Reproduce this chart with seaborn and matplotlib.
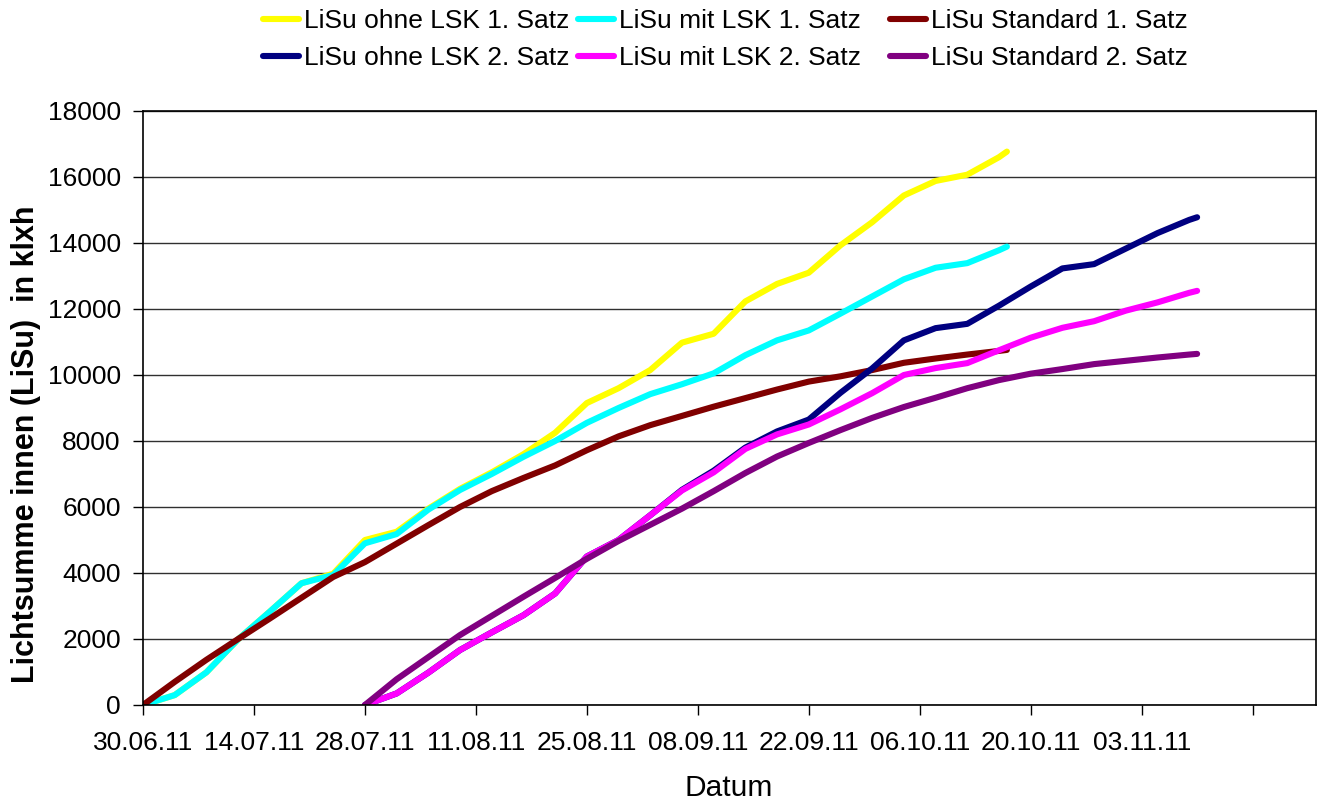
import numpy as np
import pandas as pd
import matplotlib
matplotlib.use("Agg")
import matplotlib.pyplot as plt
from matplotlib.lines import Line2D
import seaborn as sns

start = pd.Timestamp("2011-06-30")

# Tage seit 30.06.11
days_1 = [0, 4, 8, 12, 16, 20, 24, 28, 32, 36, 40, 44, 48, 52, 56, 60, 64, 68,
          72, 76, 80, 84, 88, 92, 96, 100, 104, 108, 109]
days_2 = [28, 32, 36, 40, 44, 48, 52, 56, 60, 64, 68, 72, 76, 80, 84, 88, 92,
          96, 100, 104, 108, 112, 116, 120, 124, 128, 132, 133]

ohne_lsk_1 = [0, 300, 990, 1990, 2830, 3690, 3980, 5000, 5250, 5950, 6550, 7050,
              7600, 8250, 9150, 9600, 10150, 10980, 11250, 12230, 12760, 13100,
              13930, 14630, 15440, 15880, 16070, 16600, 16770]
mit_lsk_1 = [0, 300, 990, 1990, 2830, 3690, 3940, 4900, 5180, 5920, 6515, 7000,
             7520, 8000, 8550, 9000, 9420, 9720, 10050, 10600, 11050, 11350,
             11860, 12380, 12900, 13250, 13390, 13780, 13890]
standard_1 = [0, 700, 1370, 2000, 2620, 3250, 3880, 4330, 4890, 5450, 6000, 6480,
              6880, 7260, 7720, 8140, 8480, 8760, 9040, 9300, 9560, 9800, 9960,
              10150, 10370, 10500, 10620, 10730, 10760]

ohne_lsk_2 = [0, 350, 980, 1666, 2200, 2720, 3380, 4500, 5000, 5750, 6520, 7100,
              7800, 8290, 8650, 9460, 10200, 11050, 11420, 11550, 12100, 12680,
              13230, 13360, 13830, 14300, 14700, 14780]
mit_lsk_2 = [0, 350, 980, 1666, 2200, 2720, 3380, 4500, 5000, 5750, 6500, 7050,
             7760, 8200, 8500, 8960, 9450, 10000, 10210, 10360, 10750, 11130,
             11430, 11630, 11950, 12200, 12490, 12550]
standard_2 = [0, 780, 1450, 2120, 2700, 3280, 3850, 4430, 4970, 5460, 5950, 6480,
              7030, 7530, 7940, 8330, 8700, 9030, 9310, 9600, 9845, 10040, 10180,
              10330, 10430, 10530, 10620, 10640]

series = [
    ("LiSu ohne LSK 1. Satz", days_1, ohne_lsk_1, "#FFFF00"),
    ("LiSu mit LSK 1. Satz", days_1, mit_lsk_1, "#00FFFF"),
    ("LiSu Standard 1. Satz", days_1, standard_1, "#800000"),
    ("LiSu ohne LSK 2. Satz", days_2, ohne_lsk_2, "#000080"),
    ("LiSu mit LSK 2. Satz", days_2, mit_lsk_2, "#FF00FF"),
    ("LiSu Standard 2. Satz", days_2, standard_2, "#800080"),
]

sns.set_style("white")
plt.rcParams["font.family"] = ["Liberation Sans", "DejaVu Sans"]
plt.rcParams["text.color"] = "black"
plt.rcParams["xtick.color"] = "black"
plt.rcParams["ytick.color"] = "black"

W, H = 1319, 802
fig = plt.figure(figsize=(W / 100, H / 100), dpi=100)
ax = fig.add_axes([143 / W, 1 - 705 / H, (1316 - 143) / W, (705 - 111) / H])

LW = 4.4
for label, days, values, colour in series:
    dates = start + pd.to_timedelta(days, unit="D")
    sns.lineplot(x=dates, y=values, color=colour, linewidth=LW, ax=ax,
                 solid_capstyle="round", solid_joinstyle="round")

ax.set_ylim(0, 18000)
ax.set_yticks(range(0, 18001, 2000))
ax.set_xlim(start, start + pd.Timedelta(days=148))
ticks = pd.date_range(start, periods=11, freq="14D")
ax.set_xticks(ticks)
ax.set_xticklabels([t.strftime("%d.%m.%y") for t in ticks[:-1]] + [""])

ax.yaxis.grid(True, color="#303030", linewidth=1.0)
ax.xaxis.grid(False)
ax.set_axisbelow(True)
for s in ax.spines.values():
    s.set_color("black")
    s.set_linewidth(1.2)
ax.tick_params(axis="both", direction="out", length=7, width=1, color="black",
               labelsize=19, labelcolor="black", bottom=True, left=True)
ax.tick_params(axis="x", pad=12)
ax.tick_params(axis="y", pad=9)
ax.set_xlabel("")
ax.set_ylabel("")

fig.text(729 / W, 1 - 788 / H, "Datum", ha="center", va="center", fontsize=21.5)
fig.text(26 / W, 1 - 444 / H, "Lichtsumme innen (LiSu)  in klxh", rotation=90,
         ha="center", va="center", fontsize=22, fontweight="bold")

# Legende: drei Spalten wie im Original
for col, x in enumerate([263, 578, 890]):
    items = [series[col], series[col + 3]]
    handles = [Line2D([], [], color=c, linewidth=LW, solid_capstyle="round")
               for _, _, _, c in items]
    fig.legend(handles, [lab for lab, _, _, _ in items], loc="upper left",
               bbox_to_anchor=(x / W, 1 - 9 / H), frameon=False, fontsize=19,
               handlelength=1.35, handletextpad=0.2, labelspacing=0.5,
               borderpad=0, borderaxespad=0)

fig.savefig("out.png", dpi=100)
